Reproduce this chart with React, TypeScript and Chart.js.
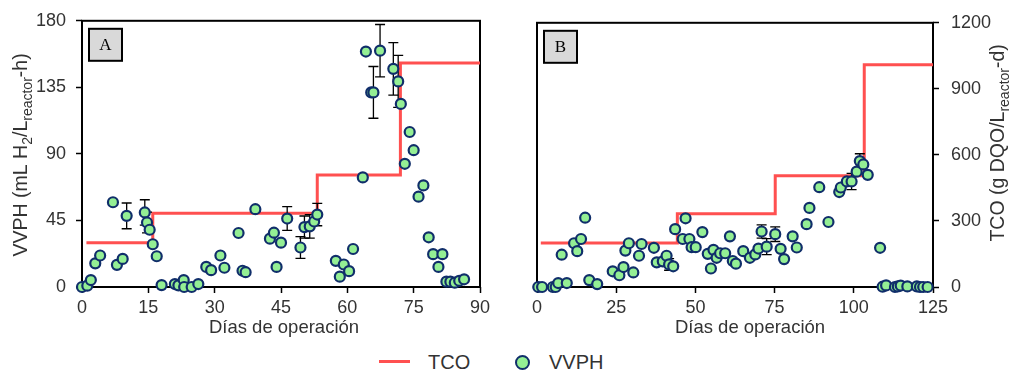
import React, { useEffect, useRef } from "react";
import { Chart, registerables } from "chart.js";

Chart.register(...registerables);

// ---------- Data: panel A ----------
const daysA = [0, 1.2, 2, 3, 4.1, 7, 7.9, 9.2, 10.1, 14.2, 14.7, 15.3, 16, 16.9, 18, 21, 21.8, 23, 23.1, 24.8, 26.3, 28.1, 29.2, 31.3, 32.2, 35.4, 36.3, 37, 39.2, 42.5, 43.4, 44, 45, 46.4, 49.4, 50.3, 51.5, 52.5, 53.2, 57.4, 58.3, 59.2, 60.4, 61.3, 63.5, 64.2, 65.4, 65.9, 67.4, 70.4, 71.5, 72.1, 73, 74.1, 75, 76.1, 77.2, 78.4, 79.4, 80.6, 81.5, 82.4, 83.3, 84.3, 85.3, 86.4];
const vvphA = [0, 0.9, 4.7, 16, 21.3, 57.3, 15, 19, 48.1, 50.4, 43.6, 38.7, 28.9, 20.8, 1.3, 2, 1.1, 4.7, 0, 0, 2, 13.6, 11.4, 21.3, 13, 36.5, 11, 10, 52.6, 32.7, 36.7, 13.6, 30, 46.3, 26.7, 40.5, 41, 44.3, 49, 17.7, 7, 15.2, 10.7, 25.7, 74.1, 159.2, 131.6, 131.6, 159.8, 147.5, 139, 123.8, 83.3, 104.8, 92.5, 61.1, 68.7, 33.6, 22.2, 13.6, 22.2, 3.6, 3.6, 2.9, 4.2, 5.2];
const errA = [0, 0, 0, 0, 0, 0, 0, 0, 8.7, 8.6, 7, 0, 0, 0, 0, 0, 0, 0, 0, 0, 0, 0, 0, 0, 0, 0, 0, 0, 0, 0, 0, 0, 0, 8, 7.4, 7.5, 8, 0, 7.6, 0, 0, 0, 0, 0, 0, 0, 0, 17.5, 17.7, 17.7, 17.6, 0, 0, 0, 0, 0, 0, 0, 0, 0, 0, 0, 0, 0, 0, 0];
const tcoDaysA = [1, 16, 53.2, 72, 90];
const tcoA = [200, 333, 505, 1010, 1010];

// ---------- Data: panel B ----------
const daysB = [0.4, 1.6, 5, 5.9, 6.7, 9.4, 7.8, 11.7, 12.7, 13.9, 15.2, 16.5, 19, 23.9, 26, 27.3, 27.9, 29, 30.4, 32.2, 33, 36.9, 37.8, 39.7, 40.9, 41.7, 43, 43.6, 46, 46.9, 48.1, 48.8, 50.1, 52.2, 53.9, 54.9, 55.7, 56.7, 57.8, 59.4, 60.9, 61.8, 62.8, 65.1, 67.2, 68.9, 69.9, 70.9, 72.5, 75.2, 76.9, 78, 80.7, 82, 85.1, 86, 89.1, 92, 95.4, 95.9, 97.8, 99.3, 100.9, 101.9, 103, 104.4, 108.3, 109.1, 110.2, 113, 113.9, 114.8, 116.9, 119.9, 120.9, 121.9, 123.3];
const vvphB = [0, 0, 0, 0, 2.7, 2.7, 22, 29.8, 24.4, 32.7, 47.2, 4.7, 2, 10.7, 8, 13.6, 24.8, 29.8, 9.9, 21.3, 29.3, 26.7, 16.8, 17.5, 21.3, 15.4, 14.1, 39.4, 32.7, 46.8, 32.7, 27.1, 27.1, 37.4, 22.6, 12.6, 25.3, 19.9, 23, 23, 34.5, 17.7, 15.9, 24.4, 19.9, 22.2, 26.2, 37.8, 27.5, 36, 26, 19, 34.5, 26.9, 42.8, 53.9, 68, 44.3, 64.7, 67.8, 71.9, 71.9, 78.6, 85.8, 83.5, 76.4, 26.7, 0.2, 1.1, 0, 0.4, 1, 0.4, 0.4, 0, 0, 0];
const errB = [0, 0, 0, 0, 0, 0, 0, 0, 0, 0, 0, 0, 0, 0, 0, 0, 0, 0, 0, 0, 0, 0, 0, 0, 0, 4, 0, 0, 0, 0, 0, 0, 0, 0, 0, 0, 0, 0, 0, 0, 0, 0, 0, 0, 0, 0, 0, 4.5, 5.5, 5, 0, 0, 0, 0, 0, 0, 0, 0, 0, 0, 0, 5.5, 0, 5, 0, 0, 0, 0, 0, 0, 0, 0, 0, 0, 0, 0, 0];
const tcoDaysB = [1.2, 44.3, 75.2, 103.3, 125];
const tcoB = [200, 333, 505, 1010, 1010];

// ---------- Axis ranges ----------
const xRangeA = [0, 90, 15];
const xRangeB = [0, 125, 25];
const vvphRange = [0, 180, 45];
const tcoRange = [0, 1200, 300];

const FONT = '"Liberation Sans", Arial, Helvetica, sans-serif';
const TEXT = "#333333";
const RED = "#FF5050";
const GREEN = "#94EF94";
const NAVY = "#102E6A";

type Part = { t: string; sub?: boolean };

function drawRich(ctx: CanvasRenderingContext2D, parts: Part[], x: number, y: number, size: number, rotate: boolean) {
  const main = `${size}px ${FONT}`;
  const sub = `${Math.round(size * 0.72)}px ${FONT}`;
  const widths = parts.map((p) => {
    ctx.font = p.sub ? sub : main;
    return ctx.measureText(p.t).width;
  });
  const total = widths.reduce((a, b) => a + b, 0);
  ctx.save();
  ctx.translate(x, y);
  if (rotate) ctx.rotate(-Math.PI / 2);
  ctx.textAlign = "left";
  ctx.textBaseline = "alphabetic";
  ctx.fillStyle = TEXT;
  let cur = -total / 2;
  parts.forEach((p, i) => {
    ctx.font = p.sub ? sub : main;
    ctx.fillText(p.t, cur, p.sub ? size * 0.35 + size * 0.24 : size * 0.35);
    cur += widths[i];
  });
  ctx.restore();
}

const decorPlugin = {
  id: "decor",
  beforeDatasetsDraw(chart: any, _args: any, opts: any) {
    const { ctx, chartArea: a } = chart;
    ctx.save();
    ctx.strokeStyle = "#000";
    ctx.lineWidth = 2;
    ctx.strokeRect(a.left, a.top, a.right - a.left, a.bottom - a.top);
    const bx = a.left + 7;
    const by = a.top + 8;
    ctx.fillStyle = "#D9D9D9";
    ctx.fillRect(bx, by, 33, 32);
    ctx.strokeRect(bx, by, 33, 32);
    ctx.fillStyle = "#000";
    ctx.font = '17px "Liberation Serif", "Times New Roman", serif';
    ctx.textAlign = "center";
    ctx.textBaseline = "middle";
    ctx.fillText(opts.letter, bx + 16.5, by + 17);
    ctx.restore();
  },
  afterDraw(chart: any, _args: any, opts: any) {
    const { ctx, chartArea: a } = chart;
    const cxArea = (a.left + a.right) / 2;
    const cyArea = (a.top + a.bottom) / 2;
    drawRich(ctx, [{ t: "Días de operación" }], cxArea + opts.xTitleDx, a.bottom + 40, 18.5, false);
    const yx = opts.yTitleSide === "left" ? a.left + opts.yTitleDx : a.right + opts.yTitleDx;
    drawRich(ctx, opts.yTitle, yx, cyArea + opts.yTitleDy, 19.5, true);
  },
  beforeDatasetDraw(chart: any, args: any, opts: any) {
    if (args.index !== 0) return;
    const { ctx } = chart;
    const xs = chart.scales.x;
    const ys = chart.scales.yV;
    const errs: number[] = opts.errors;
    const data = chart.data.datasets[0].data as { x: number; y: number }[];
    ctx.save();
    ctx.strokeStyle = "#000";
    ctx.lineWidth = 1.3;
    data.forEach((p, i) => {
      const e = errs[i];
      if (!e) return;
      const px = xs.getPixelForValue(p.x);
      const top = ys.getPixelForValue(p.y + e);
      const bot = ys.getPixelForValue(p.y - e);
      ctx.beginPath();
      ctx.moveTo(px, top);
      ctx.lineTo(px, bot);
      ctx.moveTo(px - 5, top);
      ctx.lineTo(px + 5, top);
      ctx.moveTo(px - 5, bot);
      ctx.lineTo(px + 5, bot);
      ctx.stroke();
    });
    ctx.restore();
  },
};

function gridOpts() {
  return {
    drawOnChartArea: false,
    drawTicks: true,
    tickLength: 6,
    tickWidth: 1.5,
    tickColor: "#000",
  };
}

function tickOpts(step: number, padding: number) {
  return {
    stepSize: step,
    color: TEXT,
    font: { family: FONT, size: 18 },
    padding,
    callback: (v: number) => String(v),
  };
}

function makeConfig(panel: "A" | "B"): any {
  const isA = panel === "A";
  const days = isA ? daysA : daysB;
  const vv = isA ? vvphA : vvphB;
  const tD = isA ? tcoDaysA : tcoDaysB;
  const tV = isA ? tcoA : tcoB;
  const xr = isA ? xRangeA : xRangeB;
  const H = 345;
  const yV: any = {
    type: "linear",
    position: "left",
    min: vvphRange[0],
    max: vvphRange[1],
    display: isA,
    ticks: tickOpts(vvphRange[2], 10),
    grid: gridOpts(),
    border: { display: false },
  };
  if (isA) yV.afterFit = (s: any) => { s.width = 82; };
  const yT: any = {
    type: "linear",
    position: "right",
    min: tcoRange[0],
    max: tcoRange[1],
    display: !isA,
    ticks: tickOpts(tcoRange[2], 12),
    grid: gridOpts(),
    border: { display: false },
  };
  if (!isA) yT.afterFit = (s: any) => { s.width = 76; };
  const scales: any = {
    x: {
      type: "linear",
      min: xr[0],
      max: xr[1],
      ticks: tickOpts(xr[2], 4),
      grid: gridOpts(),
      border: { display: false },
      afterFit: (s: any) => {
        s.height = H - 287;
      },
    },
    yV,
    yT,
  };
  return {
    type: "scatter",
    data: {
      datasets: [
        {
          label: "VVPH",
          data: days.map((d, i) => ({ x: d, y: vv[i] })),
          yAxisID: "yV",
          backgroundColor: GREEN,
          borderColor: NAVY,
          borderWidth: 2.2,
          pointRadius: 5,
          order: 0,
          clip: false,
        },
        {
          type: "line",
          label: "TCO",
          data: tD.map((d, i) => ({ x: d, y: tV[i] })),
          yAxisID: "yT",
          borderColor: RED,
          borderWidth: 3,
          pointRadius: 0,
          stepped: "before",
          fill: false,
          order: 1,
          clip: false,
        },
      ],
    },
    options: {
      responsive: false,
      animation: false,
      devicePixelRatio: 1,
      layout: {
        padding: isA ? { top: 19, right: 25, left: 0, bottom: 0 } : { top: 19, right: 0, left: 32, bottom: 0 },
      },
      scales,
      plugins: {
        legend: { display: false },
        tooltip: { enabled: false },
        decor: {
          letter: panel,
          errors: isA ? errA : errB,
          xTitleDx: isA ? 3 : 15,
          yTitleSide: isA ? "left" : "right",
          yTitleDx: isA ? -62 : 64,
          yTitleDy: isA ? 1 : -12,
          yTitle: isA
            ? [{ t: "VVPH (mL H" }, { t: "2", sub: true }, { t: "/L" }, { t: "reactor", sub: true }, { t: "-h)" }]
            : [{ t: "TCO (g DQO/L" }, { t: "reactor", sub: true }, { t: "-d)" }],
        },
      },
    },
    plugins: [decorPlugin],
  };
}

function Panel({ panel, left, width }: { panel: "A" | "B"; left: number; width: number }) {
  const ref = useRef<HTMLCanvasElement>(null);
  useEffect(() => {
    if (!ref.current) return;
    const chart = new Chart(ref.current, makeConfig(panel));
    return () => chart.destroy();
  }, [panel]);
  return (
    <canvas
      ref={ref}
      width={width}
      height={345}
      style={{ position: "absolute", left, top: 0, width, height: 345 }}
    />
  );
}

export default function App() {
  const legendText: React.CSSProperties = {
    position: "absolute",
    top: 349,
    height: 26,
    lineHeight: "26px",
    fontFamily: FONT,
    fontSize: 20,
    color: TEXT,
  };
  return (
    <div style={{ position: "absolute", left: 0, top: 0, width: 1009, height: 373, background: "#fff", overflow: "hidden" }}>
      <Panel panel="A" left={0} width={505} />
      <Panel panel="B" left={505} width={504} />
      <div style={{ position: "absolute", left: 379, top: 360, width: 31, height: 3, background: RED }} />
      <div style={{ ...legendText, left: 428 }}>TCO</div>
      <div
        style={{
          position: "absolute",
          left: 515,
          top: 355,
          width: 15,
          height: 15,
          borderRadius: "50%",
          boxSizing: "border-box",
          border: `2.5px solid ${NAVY}`,
          background: GREEN,
        }}
      />
      <div style={{ ...legendText, left: 549 }}>VVPH</div>
    </div>
  );
}
